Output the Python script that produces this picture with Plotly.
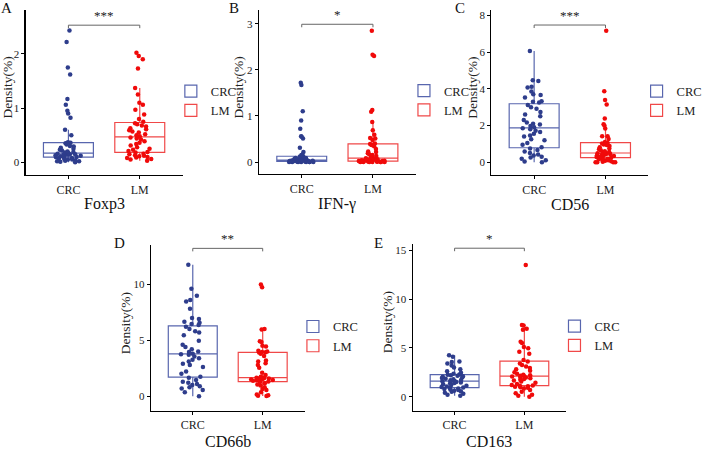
import plotly.graph_objects as go

W, H = 708, 451
FONT = "Liberation Serif, Times New Roman, serif"

# ---------------- data ----------------
groups = ["CRC", "LM"]
markers = ["Foxp3", "IFN-γ", "CD56", "CD66b", "CD163"]
panel_letters = ["A", "B", "C", "D", "E"]
signif = ["***", "*", "***", "**", "*"]
sig_y = [2.53, 2.99, 7.48, 13.2, 15.2]
y_ticks = [[0, 1, 2], [0, 1, 2, 3], [0, 2, 4, 6, 8], [0, 5, 10], [0, 5, 10, 15]]

foxp3_crc = [0.00, 0.01, 0.02, 0.02, 0.03, 0.04, 0.05, 0.05, 0.06, 0.07, 0.08, 0.09,
             0.10, 0.10, 0.11, 0.12, 0.12, 0.13, 0.14, 0.14, 0.15, 0.15, 0.16, 0.16,
             0.17, 0.18, 0.19, 0.20, 0.22, 0.23, 0.25, 0.27, 0.29, 0.30, 0.33, 0.35,
             0.36, 0.37, 0.50, 0.60, 0.82, 0.90, 0.95, 1.06, 1.17, 1.62, 1.75, 2.22, 2.43]
foxp3_lm = [0.03, 0.05, 0.06, 0.08, 0.09, 0.10, 0.11, 0.12, 0.13, 0.15, 0.16, 0.18,
            0.19, 0.21, 0.23, 0.25, 0.28, 0.31, 0.34, 0.36, 0.39, 0.42, 0.44, 0.46,
            0.48, 0.50, 0.52, 0.55, 0.57, 0.59, 0.61, 0.63, 0.66, 0.68, 0.70, 0.72,
            0.75, 0.80, 0.88, 0.97, 1.06, 1.10, 1.25, 1.37, 1.73, 1.90, 1.96, 2.02]

ifng_crc = [0, 0, 0, 0, 0, 0, 0, 0, 0.005, 0.01, 0.01, 0.01,
            0.015, 0.02, 0.02, 0.025, 0.03, 0.03, 0.03, 0.035, 0.035, 0.04, 0.04, 0.04,
            0.045, 0.05, 0.055, 0.06, 0.065, 0.07, 0.08, 0.085, 0.09, 0.10, 0.11, 0.12,
            0.13, 0.15, 0.22, 0.31, 0.51, 0.55, 0.56, 0.72, 0.90, 1.10, 1.67, 1.72]
ifng_lm = [0, 0, 0, 0, 0, 0, 0, 0.005, 0.01, 0.01, 0.01, 0.015,
           0.02, 0.02, 0.03, 0.03, 0.04, 0.04, 0.05, 0.05, 0.06, 0.06, 0.07, 0.08,
           0.09, 0.11, 0.13, 0.15, 0.17, 0.19, 0.22, 0.23, 0.28, 0.34, 0.37, 0.39,
           0.40, 0.48, 0.51, 0.52, 0.59, 0.69, 0.87, 1.09, 1.13, 2.30, 2.33, 2.85]

cd56_crc = [0.00, 0.04, 0.10, 0.18, 0.25, 0.30, 0.36, 0.42, 0.50, 0.58, 0.66, 0.75,
            0.82, 0.95, 1.05, 1.20, 1.25, 1.40, 1.45, 1.55, 1.65, 1.72, 1.80, 1.85,
            1.90, 1.97, 2.05, 2.10, 2.17, 2.30, 2.50, 2.60, 2.74, 2.92, 2.99, 3.12,
            3.25, 3.30, 3.32, 3.53, 3.67, 3.70, 3.85, 4.07, 4.12, 4.43, 4.47, 6.07]
cd56_lm = [0, 0, 0, 0, 0.02, 0.05, 0.08, 0.10, 0.13, 0.16, 0.19, 0.22,
           0.25, 0.28, 0.30, 0.33, 0.35, 0.38, 0.40, 0.42, 0.44, 0.46, 0.48, 0.49,
           0.50, 0.53, 0.56, 0.60, 0.65, 0.70, 0.75, 0.82, 0.88, 0.93, 0.97, 1.02,
           1.05, 1.10, 1.27, 1.42, 1.42, 1.83, 2.00, 2.07, 2.38, 3.14, 3.39, 3.87, 7.17]

cd66b_crc = [0.00, 0.35, 0.55, 0.70, 0.80, 0.90, 1.00, 1.10, 1.20, 1.30, 1.45, 1.65,
             1.75, 2.00, 2.20, 2.60, 2.80, 2.90, 3.10, 3.25, 3.40, 3.55, 3.70, 3.75,
             3.80, 3.95, 4.00, 4.20, 4.40, 4.60, 4.95, 5.45, 5.70, 5.80, 6.00, 6.20,
             6.35, 6.45, 6.55, 6.65, 6.90, 6.98, 7.80, 8.45, 8.60, 8.96, 9.60, 11.74]
cd66b_lm = [0.02, 0.05, 0.10, 0.15, 0.35, 0.55, 0.65, 0.80, 0.95, 1.05, 1.15, 1.28,
            1.32, 1.38, 1.42, 1.45, 1.48, 1.50, 1.52, 1.55, 1.58, 1.60, 1.63, 1.65,
            1.68, 1.75, 1.90, 2.10, 2.55, 2.80, 2.95, 3.10, 3.20, 3.60, 3.80, 3.90,
            3.92, 3.95, 4.00, 4.05, 4.45, 4.50, 4.85, 4.90, 5.95, 6.00, 9.73, 9.98]

cd163_crc = [0.10, 0.20, 0.30, 0.40, 0.50, 0.55, 0.62, 0.70, 0.75, 0.80, 0.85, 0.90,
             0.95, 1.00, 1.05, 1.12, 1.20, 1.28, 1.35, 1.40, 1.45, 1.50, 1.55, 1.58,
             1.62, 1.68, 1.72, 1.80, 1.85, 1.92, 2.00, 2.05, 2.10, 2.15, 2.20, 2.25,
             2.28, 2.35, 2.45, 2.60, 2.80, 3.00, 3.20, 3.40, 3.55, 3.60, 4.10, 4.25]
cd163_lm = [0.00, 0.10, 0.20, 0.35, 0.50, 0.70, 0.85, 0.92, 0.98, 1.02, 1.08, 1.12,
            1.15, 1.20, 1.30, 1.42, 1.55, 1.65, 1.75, 1.82, 1.90, 1.96, 2.02, 2.06,
            2.10, 2.15, 2.20, 2.25, 2.35, 2.50, 2.65, 2.80, 2.95, 3.10, 3.25, 3.40,
            3.60, 3.75, 4.40, 4.60, 4.95, 5.10, 5.50, 5.63, 6.85, 6.95, 7.30, 7.35, 13.47]

crc_values = [foxp3_crc, ifng_crc, cd56_crc, cd66b_crc, cd163_crc]
lm_values = [foxp3_lm, ifng_lm, cd56_lm, cd66b_lm, cd163_lm]

# ---------------- layout (window pixels) ----------------
panels = [
    dict(x0=26.2, x1=186.8, y0=10, y1=175, yr=[-0.234, 2.81]),
    dict(x0=265.0, x1=425.3, y0=10, y1=174, yr=[-0.26, 3.3]),
    dict(x0=502.7, x1=663.3, y0=10, y1=175, yr=[-0.7, 8.3]),
    dict(x0=154.3, x1=311.7, y0=245, y1=410.7, yr=[-1.29, 13.5]),
    dict(x0=422.3, x1=579.3, y0=244.3, y1=410.7, yr=[-1.43, 15.6]),
]
ytitle_dx = [19, 20, 19.5, 26, 25.5]
xtitle_y = [204, 204, 204, 441.5, 441.5]
letter_pos = [(7, 8), (239, 8), (471, 8), (122, 243), (387, 243)]


def px(x):
    return x / W


def py(y):
    return 1 - y / H


COL = {"CRC": dict(line="#5866AE", marker="#2E3D8C"),
       "LM": dict(line="#F04848", marker="#F00A0A")}

fig = go.Figure()
annotations = []
shapes = []
layout_axes = {}

for i, p in enumerate(panels):
    xa = "x" if i == 0 else f"x{i+1}"
    ya = "y" if i == 0 else f"y{i+1}"
    lg = "legend" if i == 0 else f"legend{i+1}"
    for g, vals in zip(groups, [crc_values[i], lm_values[i]]):
        fig.add_trace(go.Box(
            x=[g] * len(vals), y=vals, name=g,
            boxpoints="all", jitter=0.6, pointpos=0, width=0.7, whiskerwidth=0,
            fillcolor="rgba(0,0,0,0)",
            line=dict(color=COL[g]["line"], width=1.2),
            marker=dict(color=COL[g]["marker"], size=4.5),
            xaxis=xa, yaxis=ya, legend=lg, showlegend=True, hoverinfo="y",
        ))
    dom_x = [px(p["x0"]), px(p["x1"])]
    dom_y = [py(p["y1"]), py(p["y0"])]
    xkey = "xaxis" if i == 0 else f"xaxis{i+1}"
    ykey = "yaxis" if i == 0 else f"yaxis{i+1}"
    layout_axes[xkey] = dict(
        domain=dom_x, anchor=ya, type="category", categoryarray=groups,
        range=[-0.6, 1.6], showline=True, linecolor="black", linewidth=1.2,
        ticks="outside", ticklen=3, tickcolor="black", tickwidth=1,
        tickfont=dict(family=FONT, size=12, color="#222"),
        showgrid=False, zeroline=False, fixedrange=True)
    layout_axes[ykey] = dict(
        domain=dom_y, anchor=xa, range=p["yr"], tickvals=y_ticks[i],
        showline=True, linecolor="black", linewidth=1.2,
        ticks="outside", ticklen=3, tickcolor="black", tickwidth=1,
        tickfont=dict(family=FONT, size=11, color="#222"),
        showgrid=False, zeroline=False, fixedrange=True)
    # legend
    layout_axes[lg] = dict(
        x=px(p["x1"] - 12), y=py((p["y0"] + p["y1"]) / 2 - 16),
        xanchor="left", yanchor="top", bgcolor="rgba(0,0,0,0)",
        font=dict(family=FONT, size=12.5, color="#222"),
        itemwidth=30, tracegroupgap=0)
    # significance bracket
    d = 3 * (p["yr"][1] - p["yr"][0]) / (p["y1"] - p["y0"])
    for (a, b, c, e) in [(0, sig_y[i] - d, 0, sig_y[i]), (0, sig_y[i], 1, sig_y[i]),
                         (1, sig_y[i], 1, sig_y[i] - d)]:
        shapes.append(dict(type="line", xref=xa, yref=ya, x0=a, y0=b, x1=c, y1=e,
                           line=dict(color="#666", width=1)))
    annotations.append(dict(xref=xa, yref=ya, x=0.5, y=sig_y[i], text=signif[i],
                            showarrow=False, yanchor="bottom", yshift=0,
                            font=dict(family=FONT, size=13, color="#222")))
    # axis titles
    annotations.append(dict(xref="paper", yref="paper",
                            x=px(p["x0"] - ytitle_dx[i]),
                            y=py((p["y0"] + p["y1"]) / 2 - 5),
                            text="Density(%)", textangle=-90, showarrow=False,
                            xanchor="center", yanchor="middle",
                            font=dict(family=FONT, size=13.5, color="#222")))
    annotations.append(dict(xref="paper", yref="paper",
                            x=px((p["x0"] + p["x1"]) / 2), y=py(xtitle_y[i]),
                            text=markers[i], showarrow=False,
                            xanchor="center", yanchor="middle",
                            font=dict(family=FONT, size=16, color="#111")))
    lx, ly = letter_pos[i]
    annotations.append(dict(xref="paper", yref="paper", x=px(lx), y=py(ly),
                            text=panel_letters[i], showarrow=False,
                            xanchor="center", yanchor="middle",
                            font=dict(family=FONT, size=15, color="#111")))

fig.update_layout(
    width=W, height=H, margin=dict(l=0, r=0, t=0, b=0),
    paper_bgcolor="white", plot_bgcolor="white",
    boxmode="overlay", font=dict(family=FONT), hovermode=False,
    annotations=annotations, shapes=shapes, **layout_axes)

# remove the default 8px page margin so the figure fills the window exactly
fig.write_html("out.html", config={"displayModeBar": False, "staticPlot": True},
               post_script="document.body.style.margin='0px';")
